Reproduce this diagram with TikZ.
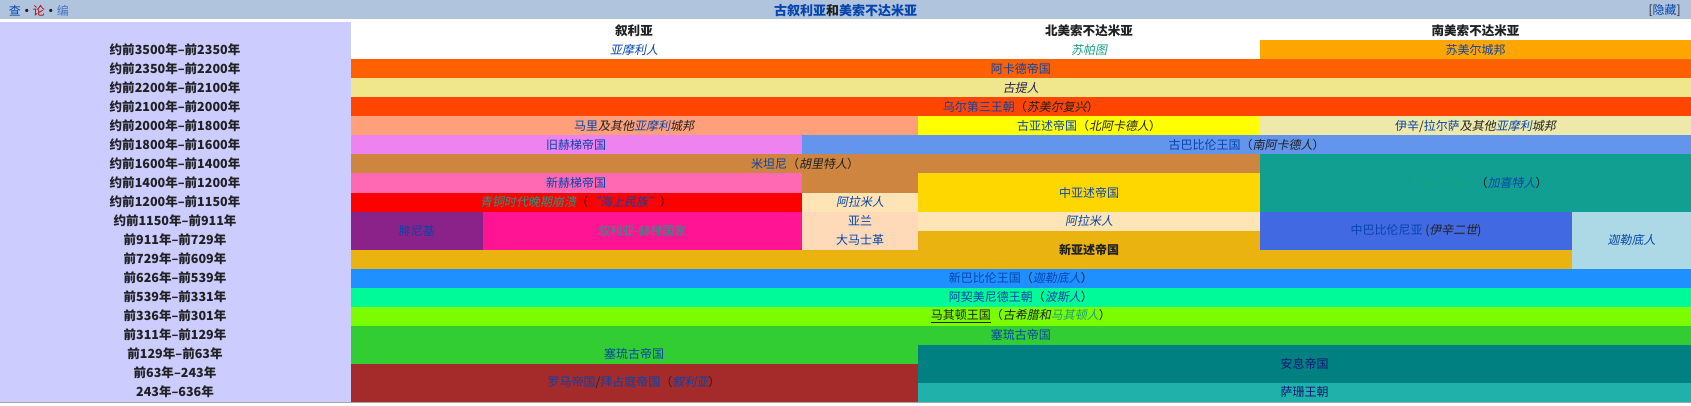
\documentclass[tikz,border=0pt]{standalone}
\usepackage{fontspec}
\setmainfont{Noto Sans CJK SC}[AutoFakeSlant=0.2]
\definecolor{lnk}{HTML}{0645AD}
\definecolor{dark}{HTML}{202122}
\definecolor{redlnk}{HTML}{BA0000}
\definecolor{grn}{HTML}{14A084}
\definecolor{navy2}{HTML}{10187A}
\definecolor{visit}{HTML}{2A2050}
\definecolor{hbar}{HTML}{B0C4DE}
\definecolor{lcol}{HTML}{CCCCFF}
\definecolor{sumer}{HTML}{FFA500}
\definecolor{akkad}{HTML}{FF6100}
\definecolor{guti}{HTML}{F0E68C}
\definecolor{urIII}{HTML}{FF4500}
\definecolor{mari}{HTML}{FFA07A}
\definecolor{oldass}{HTML}{FFFF00}
\definecolor{isin}{HTML}{EEE8AA}
\definecolor{ohitt}{HTML}{EE82EE}
\definecolor{oldbab}{HTML}{6495ED}
\definecolor{mitanni}{HTML}{CD853F}
\definecolor{kassite}{HTML}{109F91}
\definecolor{nhitt}{HTML}{FF69B4}
\definecolor{midass}{HTML}{FFD700}
\definecolor{collapse}{HTML}{FF0000}
\definecolor{aramean}{HTML}{FFE4B5}
\definecolor{phoen}{HTML}{8B2289}
\definecolor{syrhitt}{HTML}{FF1493}
\definecolor{aram}{HTML}{FFDAB9}
\definecolor{midbab}{HTML}{4169E1}
\definecolor{chald}{HTML}{ADD8E6}
\definecolor{neoass}{HTML}{EBB310}
\definecolor{neobab}{HTML}{1E90FF}
\definecolor{achaem}{HTML}{00FA9A}
\definecolor{maced}{HTML}{7CFC00}
\definecolor{seleu}{HTML}{32CD32}
\definecolor{parth}{HTML}{008080}
\definecolor{rome}{HTML}{A52A2A}
\definecolor{sassan}{HTML}{20B2AA}
\newcommand\wlink[1]{\textcolor{lnk}{#1}}
\begin{document}
\begin{tikzpicture}[x=0.75pt,y=-0.75pt,
  txt/.style={inner sep=0pt,font=\fontsize{9}{10}\selectfont,text=dark},
  lbl/.style={inner sep=0pt,font=\fontsize{9.4}{10}\selectfont\bfseries,text=dark},
  ttl/.style={inner sep=0pt,font=\fontsize{9.75}{10}\selectfont\bfseries,text=dark}]
\useasboundingbox (0,0) rectangle (1691,406);
% title bar and period column
\fill[hbar] (0,0) rectangle (1691,19.5);
\fill[lcol] (0,21.7) rectangle (350.5,401.5);
\fill[black!35] (0,401.7) rectangle (1691,403);
\node[txt,anchor=west] (vte) at (8.5,10.5) {\wlink{查}{\bfseries•}\textcolor{redlnk}{论}{\bfseries•}\textcolor{lnk!75}{编}};
\node[ttl] (title) at (845.5,10.5) {\wlink{古叙利亚}和\wlink{美索不达米亚}};
\node[txt,anchor=east] (hide) at (1681,10.5) {[\wlink{隐藏}]};
% regions
\node[lbl] (syria) at (634,31) {叙利亚};
\node[lbl] (north) at (1089,31) {北美索不达米亚};
\node[lbl] (south) at (1475.5,31) {南美索不达米亚};
% cells
\fill[sumer] (1260,40.5) rectangle (1691,59.5);
\fill[akkad] (350.5,59.5) rectangle (1691,78.5);
\fill[guti] (350.5,78.5) rectangle (1691,97.5);
\fill[urIII] (350.5,97.5) rectangle (1691,116.5);
\fill[mari] (350.5,116.5) rectangle (918,135.5);
\fill[oldass] (918,116.5) rectangle (1260,135.5);
\fill[isin] (1260,116.5) rectangle (1691,135.5);
\fill[ohitt] (350.5,135.5) rectangle (802,154.5);
\fill[oldbab] (802,135.5) rectangle (1691,154.5);
\fill[mitanni] (350.5,154.5) rectangle (1260,173.5);
\fill[mitanni] (802,173.5) rectangle (918,192.5);
\fill[kassite] (1260,154.5) rectangle (1691,211.5);
\fill[nhitt] (350.5,173.5) rectangle (802,192.5);
\fill[midass] (918,173.5) rectangle (1260,211.5);
\fill[collapse] (350.5,192.5) rectangle (802,211.5);
\fill[aramean] (802,192.5) rectangle (918,211.5);
\fill[phoen] (350.5,211.5) rectangle (483,249.5);
\fill[syrhitt] (483,211.5) rectangle (802,249.5);
\fill[aram] (802,211.5) rectangle (918,249.5);
\fill[aramean] (918,211.5) rectangle (1260,230.5);
\fill[midbab] (1260,211.5) rectangle (1572,249.5);
\fill[chald] (1572,211.5) rectangle (1691,268.5);
\fill[neoass] (918,230.5) rectangle (1260,249.5);
\fill[neoass] (350.5,249.5) rectangle (1572,268.5);
\fill[neobab] (350.5,268.5) rectangle (1691,287.5);
\fill[achaem] (350.5,287.5) rectangle (1691,306.5);
\fill[maced] (350.5,306.5) rectangle (1691,325.5);
\fill[seleu] (350.5,325.5) rectangle (1691,344.5);
\fill[seleu] (350.5,344.5) rectangle (918,363.5);
\fill[parth] (918,344.5) rectangle (1691,382.5);
\fill[rome] (350.5,363.5) rectangle (918,401.5);
\fill[sassan] (918,382.5) rectangle (1691,401.5);
% periods
\node[lbl] (p1) at (175,50) {约前3500年–前2350年};
\node[lbl] (p2) at (175,69) {约前2350年–前2200年};
\node[lbl] (p3) at (175,88) {约前2200年–前2100年};
\node[lbl] (p4) at (175,107) {约前2100年–前2000年};
\node[lbl] (p5) at (175,126) {约前2000年–前1800年};
\node[lbl] (p6) at (175,145) {约前1800年–前1600年};
\node[lbl] (p7) at (175,164) {约前1600年–前1400年};
\node[lbl] (p8) at (175,183) {约前1400年–前1200年};
\node[lbl] (p9) at (175,202) {约前1200年–前1150年};
\node[lbl] (p10) at (175,221) {约前1150年–前911年};
\node[lbl] (p11) at (175,240) {前911年–前729年};
\node[lbl] (p12) at (175,259) {前729年–前609年};
\node[lbl] (p13) at (175,278) {前626年–前539年};
\node[lbl] (p14) at (175,297) {前539年–前331年};
\node[lbl] (p15) at (175,316) {前336年–前301年};
\node[lbl] (p16) at (175,335) {前311年–前129年};
\node[lbl] (p17) at (175,354) {前129年–前63年};
\node[lbl] (p18) at (175,373) {前63年–243年};
\node[lbl] (p19) at (175,392) {243年–636年};
% states
\node[txt] (amorites) at (634,50) {\itshape\wlink{亚摩利人}};
\node[txt] (subartu) at (1089,50) {\itshape\textcolor{grn}{苏帕图}};
\node[txt] (sumerian) at (1475.5,50) {\wlink{苏美尔城邦}};
\node[txt] (akkadian) at (1020.75,69) {\wlink{阿卡德帝国}};
\node[txt] (gutians) at (1020.75,88) {\itshape\textcolor{visit}{古提人}};
\node[txt] (ur) at (1020.75,107) {\wlink{乌尔第三王朝}（\textit{苏美尔复兴}）};
\node[txt] (maricity) at (634,126) {\wlink{马里}\textit{及其他\wlink{亚摩利}城邦}};
\node[txt] (oldassyria) at (1089,126) {\wlink{古亚述帝国}（\textit{北阿卡德人}）};
\node[txt] (isinlarsa) at (1475.5,126) {\wlink{伊辛}/\wlink{拉尔萨}\textit{及其他\wlink{亚摩利}城邦}};
\node[txt] (oldhittite) at (576,145) {\wlink{旧赫梯帝国}};
\node[txt] (oldbabylon) at (1246.5,145) {\wlink{古巴比伦王国}（\textit{南阿卡德人}）};
\node[txt] (mitannian) at (805,164) {\wlink{米坦尼}（\textit{胡里特人}）};
\node[txt] (karduniash) at (1475.5,183) {\textcolor{grn}{卡尔杜尼亚什}（\textit{\wlink{加喜特人}}）};
\node[txt] (newhittite) at (576,183) {\wlink{新赫梯帝国}};
\node[txt] (midassyria) at (1089,192.5) {\wlink{中亚述帝国}};
\node[txt] (bronze) at (576,202) {\textit{\textcolor{grn}{青铜时代晚期崩溃}}（\textit{\wlink{“海上民族”}}）};
\node[txt] (arameans1) at (860,202) {\itshape\wlink{阿拉米人}};
\node[txt] (phoenicia) at (416.75,230.5) {\wlink{腓尼基}};
\node[txt] (syrohitt) at (642.5,230.5) {\textcolor{grn}{叙利亚-赫梯国家}};
\node[txt] (aramstate) at (860,221) {\wlink{亚兰}};
\node[txt] (damascus) at (860,240) {\wlink{大马士革}};
\node[txt] (arameans2) at (1089,221) {\itshape\wlink{阿拉米人}};
\node[txt] (midbabylon) at (1416,230.5) {\wlink{中巴比伦尼亚} (\textit{伊辛二世})};
\node[txt] (chaldeans) at (1631.5,240) {\itshape\wlink{迦勒底人}};
\node[txt] (neoassyria) at (1089,249.5) {\bfseries 新亚述帝国};
\node[txt] (neobabylon) at (1020.75,278) {\wlink{新巴比伦王国}（\textit{\wlink{迦勒底人}}）};
\node[txt] (achaemenid) at (1020.75,297) {\wlink{阿契美尼德王朝}（\textit{\wlink{波斯人}}）};
\node[txt] (macedon) at (1020.75,316) {\underline{马其顿王国}（\textit{古希腊和\textcolor{grn}{马其顿人}}）};
\node[txt] (seleucid1) at (1020.75,335) {\wlink{塞琉古帝国}};
\node[txt] (seleucid2) at (634,354) {\wlink{塞琉古帝国}};
\node[txt] (parthia) at (1304.5,364) {\textcolor{navy2}{安息帝国}};
\node[txt] (roman) at (634,382.5) {\wlink{罗马帝国}/\wlink{拜占庭帝国}（\textit{\wlink{叙利亚}}）};
\node[txt] (sassanid) at (1304.5,392) {\textcolor{navy2}{萨珊王朝}};
\end{tikzpicture}
\end{document}
